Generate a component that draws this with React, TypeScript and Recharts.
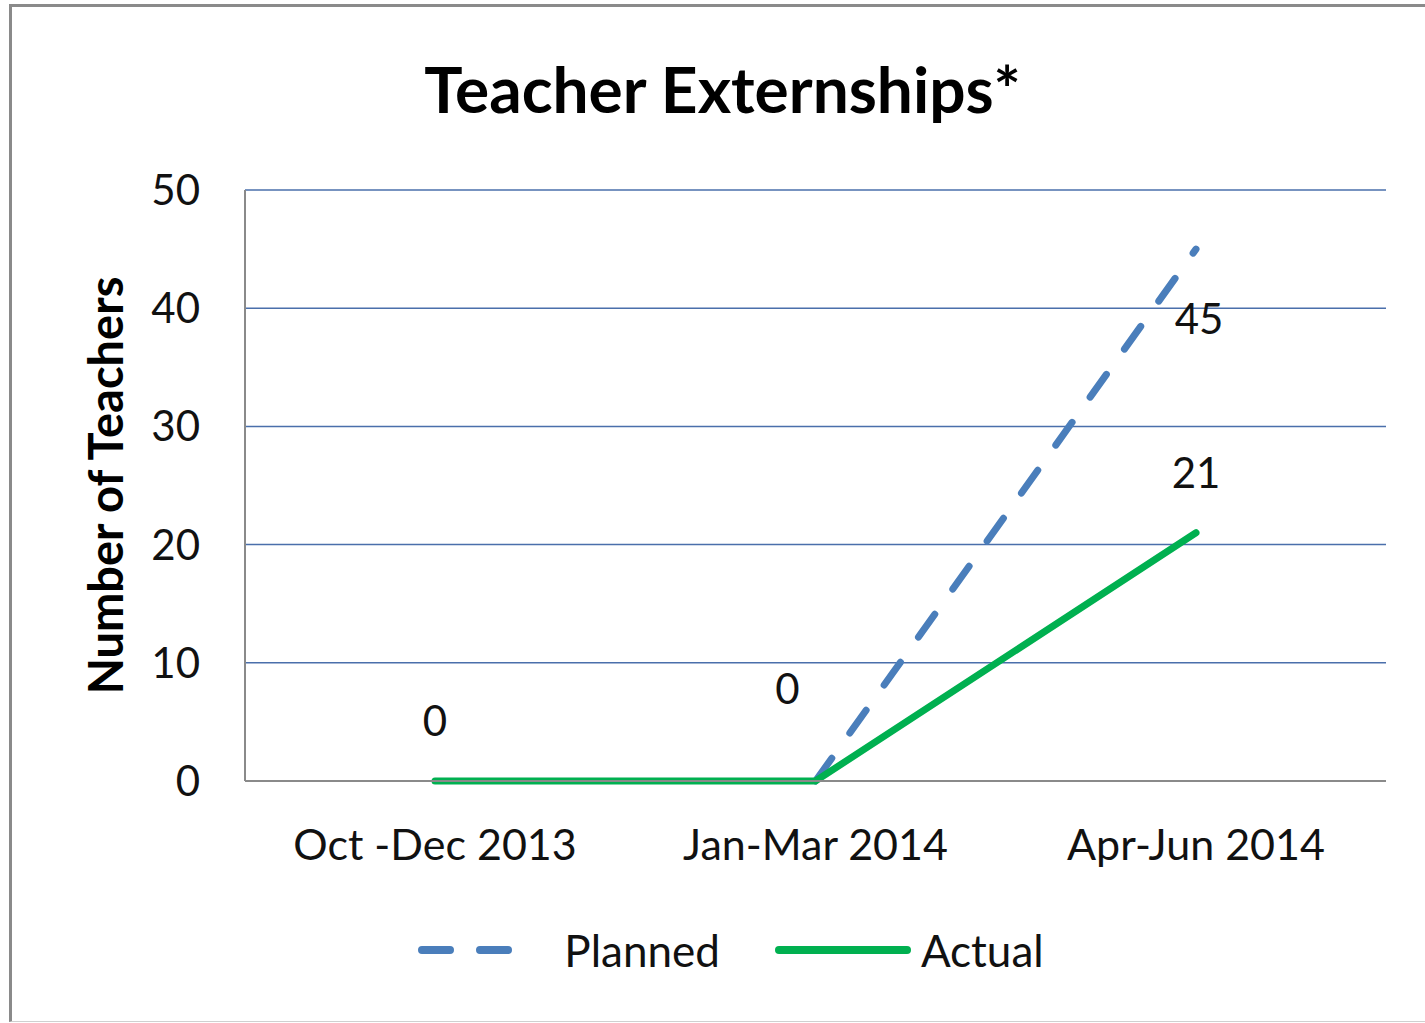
import React from "react";
import { LineChart, Line, XAxis, YAxis, CartesianGrid, LabelList } from "recharts";

const quarters = ["Oct -Dec 2013", "Jan-Mar 2014", "Apr-Jun 2014"];
const planned = [null, 0, 45];
const actual = [0, 0, 21];
const yTicks = [0, 10, 20, 30, 40, 50];

const data = quarters.map((q, i) => ({ quarter: q, planned: planned[i], actual: actual[i] }));

const FONT = "Lato, 'Noto Sans', sans-serif";
const BLUE = "#4a7ebb";
const GREEN = "#00b050";

const actualLabel = (p: any) => {
  if (p.index === 1) return null;
  return (
    <text x={p.x} y={p.y - 61} textAnchor="middle" dominantBaseline="central" fontSize={42} fontFamily={FONT} fill="#111">
      {p.value}
    </text>
  );
};

const plannedLabel = (p: any) => {
  if (p.value == null) return null;
  const dx = p.index === 1 ? -28 : 3;
  const dy = p.index === 1 ? -93 : 69;
  return (
    <text x={p.x + dx} y={p.y + dy} textAnchor="middle" dominantBaseline="central" fontSize={42} fontFamily={FONT} fill="#111">
      {p.value}
    </text>
  );
};

const ChartLegend = () => (
  <div
    style={{
      position: "absolute",
      top: 924,
      left: 0,
      width: 1460,
      display: "flex",
      alignItems: "center",
      justifyContent: "center",
      fontFamily: FONT,
      fontSize: 44,
      color: "#111",
    }}
  >
    <svg width={110} height={20} style={{ marginRight: 38 }}>
      <line x1={6} y1={10} x2={104} y2={10} stroke={BLUE} strokeWidth={8} strokeDasharray="28 30" strokeLinecap="round" />
    </svg>
    <span style={{ marginRight: 55 }}>Planned</span>
    <svg width={136} height={20} style={{ marginRight: 10 }}>
      <line x1={4} y1={10} x2={132} y2={10} stroke={GREEN} strokeWidth={8} strokeLinecap="round" />
    </svg>
    <span>Actual</span>
  </div>
);

export default function App() {
  return (
    <div style={{ position: "absolute", left: 0, top: 0, width: 1425, height: 1023, overflow: "hidden", background: "#fff" }}>
      <div
        style={{
          position: "absolute",
          left: 9,
          top: 4,
          width: 1440,
          height: 1014,
          border: "3px solid #8a8a8a",
          borderBottomColor: "#d0d0d0",
          borderBottomWidth: 1,
        }}
      />
      <div
        style={{
          position: "absolute",
          top: 50,
          left: 0,
          width: 1445,
          textAlign: "center",
          fontFamily: FONT,
          fontWeight: 700,
          fontSize: 64,
          color: "#000",
        }}
      >
        Teacher Externships*
      </div>
      <div style={{ position: "absolute", left: 0, top: 0 }}>
        <LineChart width={1425} height={1023} data={data} margin={{ top: 190, right: 39, left: 145, bottom: 122 }}>
          <CartesianGrid vertical={false} stroke="#4a6fab" strokeWidth={1.5} />
          <XAxis
            dataKey="quarter"
            height={120}
            padding={{ left: 190, right: 190 }}
            axisLine={{ stroke: "#8a8a8a", strokeWidth: 2 }}
            tickLine={false}
            tickSize={0}
            tickMargin={48}
            tick={{ fontSize: 43, fontFamily: FONT, fill: "#111" }}
          />
          <YAxis
            width={100}
            domain={[0, 50]}
            ticks={yTicks}
            axisLine={{ stroke: "#8a8a8a", strokeWidth: 2 }}
            tickLine={false}
            tickSize={0}
            tickMargin={45}
            tick={{ fontSize: 42, fontFamily: FONT, fill: "#111" }}
            label={{
              content: (props: any) => {
                const vb = props.viewBox;
                const cx = vb.x - 40;
                const cy = vb.y + vb.height / 2;
                return (
                  <text
                    x={cx}
                    y={cy}
                    transform={`rotate(-90, ${cx}, ${cy})`}
                    textAnchor="middle"
                    dominantBaseline="central"
                    fontSize={47}
                    fontWeight={700}
                    fontFamily={FONT}
                    fill="#000"
                  >
                    Number of Teachers
                  </text>
                );
              },
            }}
          />
          <Line
            type="linear"
            dataKey="planned"
            name="Planned"
            stroke={BLUE}
            strokeWidth={7}
            strokeDasharray="28 31"
            strokeLinecap="round"
            dot={false}
            activeDot={false}
            isAnimationActive={false}
          >
            <LabelList dataKey="planned" content={plannedLabel} />
          </Line>
          <Line
            type="linear"
            dataKey="actual"
            name="Actual"
            stroke={GREEN}
            strokeWidth={7}
            strokeLinecap="round"
            dot={false}
            activeDot={false}
            isAnimationActive={false}
          >
            <LabelList dataKey="actual" content={actualLabel} />
          </Line>
        </LineChart>
      </div>
      <ChartLegend />
    </div>
  );
}
